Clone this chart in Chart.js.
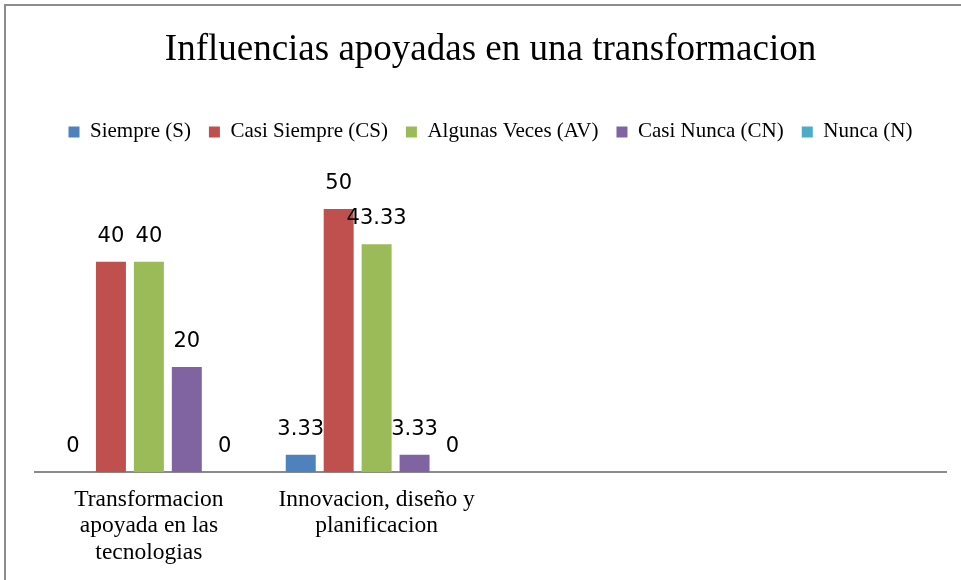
<!DOCTYPE html>
<html>
<head>
<meta charset="utf-8">
<script src="https://cdn.jsdelivr.net/npm/chart.js@4.4.1/dist/chart.umd.min.js"></script>
<style>
    html, body { margin: 0; padding: 0; background: #fff; overflow: hidden; }
    #wrap { position: relative; width: 961px; height: 580px; }
    #frame { position: absolute; left: 4px; top: 4px; width: 2000px; height: 2000px; border: 2px solid #8c8c8c; }
    #chart { position: absolute; left: 0; top: 0; }
</style>
</head>
<body>
<div id="wrap">
    <div id="frame"></div>
    <canvas id="chart" width="961" height="580"></canvas>
</div>
<script>
// Chart data
const categories = [
    ['Transformacion', 'apoyada en las', 'tecnologias'],
    ['Innovacion, diseño y', 'planificacion'],
    '',
    ''
];
const seriesNames = ['Siempre (S)', 'Casi Siempre (CS)', 'Algunas Veces (AV)', 'Casi Nunca (CN)', 'Nunca (N)'];
const siempre = [0, 3.33, null, null];
const casiSiempre = [40, 50, null, null];
const algunasVeces = [40, 43.33, null, null];
const casiNunca = [20, 3.33, null, null];
const nunca = [0, 0, null, null];
const colors = ['#4f81bd', '#c0504d', '#9bbb59', '#8064a2', '#4bacc6'];

const seriesValues = [siempre, casiSiempre, algunasVeces, casiNunca, nunca];

// value labels above each bar
const valueLabels = {
    id: 'valueLabels',
    afterDatasetsDraw(chart) {
        const ctx = chart.ctx;
        ctx.save();
        ctx.font = '21px "DejaVu Sans"';
        ctx.fillStyle = '#000';
        ctx.textAlign = 'center';
        ctx.textBaseline = 'alphabetic';
        chart.data.datasets.forEach((ds, i) => {
            chart.getDatasetMeta(i).data.forEach((bar, j) => {
                const v = ds.data[j];
                if (v === null || v === undefined) return;
                ctx.fillText(String(v), bar.x, bar.y - 20);
            });
        });
        ctx.restore();
    }
};

// a bit of extra room under the legend
const legendSpace = {
    id: 'legendSpace',
    beforeInit(chart) {
        const fit = chart.legend.fit;
        chart.legend.fit = function() {
            fit.bind(chart.legend)();
            this.height += 4;
        };
    }
};

new Chart(document.getElementById('chart'), {
    type: 'bar',
    data: {
        labels: categories,
        datasets: seriesNames.map((name, i) => ({
            label: name,
            data: seriesValues[i],
            backgroundColor: colors[i],
            categoryPercentage: 0.833,
            barPercentage: 0.79
        }))
    },
    options: {
        responsive: false,
        animation: false,
        layout: { padding: { left: 35, right: 15, top: 0, bottom: 0 } },
        plugins: {
            title: {
                display: true,
                text: 'Influencias apoyadas en una transformacion',
                color: '#000',
                font: { family: '"Liberation Serif"', size: 37, weight: 'normal', lineHeight: 1.2 },
                padding: { top: 28, bottom: 31 }
            },
            legend: {
                display: true,
                labels: {
                    color: '#000',
                    font: { family: '"Liberation Serif"', size: 21 },
                    boxWidth: 11,
                    boxHeight: 11,
                    padding: 18
                }
            },
            tooltip: { enabled: false }
        },
        scales: {
            x: {
                grid: { drawOnChartArea: false, drawTicks: false },
                border: { color: '#8a8a8a', width: 2 },
                ticks: {
                    color: '#000',
                    font: { family: '"Liberation Serif"', size: 23.5, lineHeight: 1.13 },
                    padding: 14,
                    maxRotation: 0,
                    autoSkip: false
                }
            },
            y: {
                display: false,
                min: 0,
                max: 60
            }
        }
    },
    plugins: [valueLabels, legendSpace]
});
</script>
</body>
</html>
